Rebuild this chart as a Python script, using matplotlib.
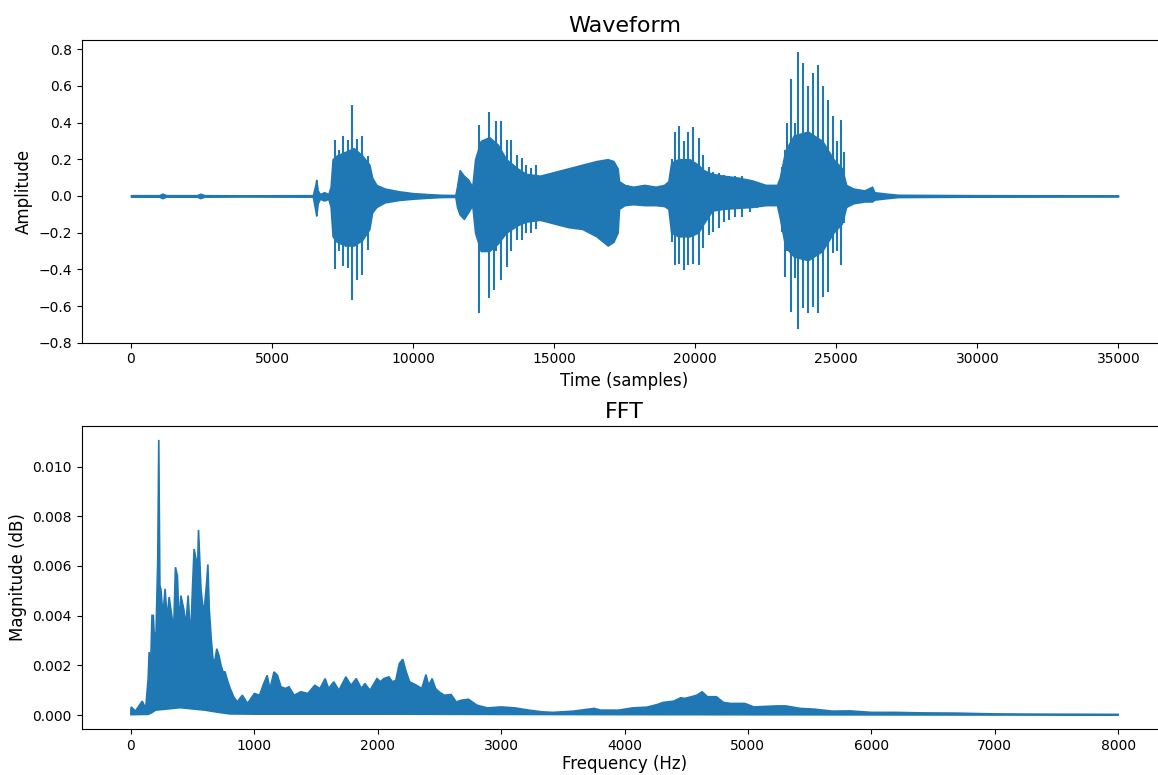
import numpy as np
import matplotlib
matplotlib.use("Agg")
import matplotlib.pyplot as plt

# Waveform envelope (sample index, upper / lower amplitude)
wave_x = [
    0, 1000, 1120, 1250, 2350, 2460, 2600, 4000, 6450, 6540,
    6570, 6620, 6700, 6850, 7000, 7080, 7150, 7300, 7600, 7900,
    8200, 8450, 8550, 8700, 9000, 9500, 10000, 10500, 11000, 11500,
    11560, 11650, 11800, 11950, 12100, 12200, 12400, 12700, 13000, 13300,
    13700, 14000, 14500, 15000, 15500, 16000, 16500, 16900, 17100, 17250,
    17300, 17500, 17800, 18200, 18600, 18900, 19050, 19150, 19400, 19800,
    20100, 20300, 20600, 21000, 21500, 22000, 22500, 22900, 23000, 23200,
    23500, 24000, 24500, 24900, 25200, 25350, 25600, 26000, 26270, 26350,
    26800, 27200, 30000, 34990,
]
wave_hi = [
    0.004, 0.004, 0.012, 0.004, 0.004, 0.012, 0.004, 0.003, 0.004, 0.06,
    0.087, 0.03, 0.01, 0.02, 0.01, 0.05, 0.2, 0.22, 0.24, 0.26,
    0.22, 0.17, 0.1, 0.06, 0.04, 0.025, 0.015, 0.01, 0.006, 0.005,
    0.05, 0.14, 0.11, 0.09, 0.05, 0.2, 0.3, 0.32, 0.28, 0.2,
    0.15, 0.12, 0.11, 0.13, 0.15, 0.17, 0.19, 0.2, 0.19, 0.15,
    0.08, 0.06, 0.05, 0.06, 0.05, 0.06, 0.08, 0.18, 0.2, 0.2,
    0.17, 0.14, 0.12, 0.11, 0.1, 0.085, 0.06, 0.06, 0.1, 0.25,
    0.33, 0.35, 0.3, 0.2, 0.15, 0.06, 0.04, 0.03, 0.05, 0.02,
    0.012, 0.006, 0.004, 0.003,
]
wave_lo = [
    -0.004, -0.004, -0.012, -0.004, -0.004, -0.012, -0.004, -0.003, -0.004, -0.08,
    -0.107, -0.04, -0.015, -0.025, -0.015, -0.06, -0.22, -0.25, -0.27, -0.27,
    -0.24, -0.18, -0.09, -0.06, -0.035, -0.022, -0.015, -0.01, -0.006, -0.005,
    -0.06, -0.1, -0.125, -0.09, -0.05, -0.2, -0.3, -0.3, -0.26, -0.2,
    -0.16, -0.14, -0.13, -0.15, -0.17, -0.18, -0.22, -0.27, -0.25, -0.2,
    -0.07, -0.05, -0.045, -0.05, -0.05, -0.055, -0.07, -0.2, -0.22, -0.22,
    -0.2, -0.15, -0.08, -0.07, -0.065, -0.06, -0.05, -0.05, -0.12, -0.28,
    -0.33, -0.35, -0.3, -0.2, -0.15, -0.06, -0.04, -0.03, -0.03, -0.02,
    -0.012, -0.006, -0.004, -0.003,
]

# Pitch pulses sticking out of the envelope
spike_x = [
    7241, 7380, 7521, 7680, 7850, 8021, 8204, 8399,
    12348, 12520, 12700, 12873, 12958, 13104, 13324, 13482, 13689, 13848, 14019, 14177, 14360,
    19194, 19282, 19433, 19610, 19761, 19912, 20126, 20290,
    20479, 20642, 20831, 21020, 21209, 21423, 21650, 21927, 22179,
    23085, 23186, 23262, 23413, 23520, 23627, 23816, 24005, 24169, 24345, 24534, 24710,
    24886, 25040, 25176, 25277,
]
spike_top = [
    0.306, 0.25, 0.324, 0.306, 0.497, 0.31, 0.324, 0.215,
    0.388, 0.3, 0.46, 0.3, 0.406, 0.406, 0.306, 0.306, 0.224, 0.206, 0.17, 0.15, 0.17,
    0.2, 0.35, 0.379, 0.3, 0.35, 0.375, 0.315, 0.224,
    0.16, 0.133, 0.124, 0.115, 0.106, 0.106, 0.106, 0.087, 0.078,
    0.16, 0.25, 0.397, 0.637, 0.4, 0.783, 0.724, 0.6, 0.67, 0.715, 0.597, 0.524,
    0.433, 0.3, 0.415, 0.242,
]
spike_bot = [
    -0.40, -0.3, -0.382, -0.395, -0.568, -0.459, -0.432, -0.295,
    -0.637, -0.3, -0.559, -0.513, -0.3, -0.459, -0.386, -0.3, -0.24, -0.24, -0.204, -0.204, -0.18,
    -0.25, -0.377, -0.37, -0.404, -0.377, -0.37, -0.377, -0.286,
    -0.213, -0.195, -0.177, -0.14, -0.131, -0.113, -0.113, -0.086, -0.067,
    -0.195, -0.44, -0.3, -0.632, -0.45, -0.728, -0.613, -0.64, -0.604, -0.64, -0.55, -0.522,
    -0.313, -0.3, -0.377, -0.15,
]

# FFT magnitude, upper edge (Hz, value)
fft_f = [
    0, 3, 36, 92, 120, 140, 148, 159, 171, 182,
    190, 204, 218, 226, 235, 243, 260, 277, 294, 310,
    333, 347, 361, 377, 391, 405, 428, 445, 464, 484,
    500, 512, 528, 540, 548, 559, 568, 582, 596, 612,
    624, 635, 651, 665, 679, 696, 713, 730, 747, 763,
    786, 805, 833, 861, 903, 945, 1001, 1043, 1071, 1104,
    1127, 1160, 1188, 1216, 1253, 1281, 1323, 1378, 1434, 1490,
    1532, 1574, 1602, 1644, 1686, 1742, 1784, 1826, 1868, 1896,
    1938, 1994, 2022, 2049, 2091, 2119, 2147, 2175, 2203, 2231,
    2259, 2287, 2315, 2357, 2391, 2413, 2441, 2469, 2497, 2539,
    2595, 2637, 2679, 2735, 2804, 2888, 3000, 3112, 3224, 3336,
    3420, 3587, 3755, 3807, 3951, 4066, 4182, 4268, 4312, 4398,
    4456, 4485, 4543, 4586, 4629, 4672, 4745, 4802, 4860, 4975,
    5048, 5235, 5307, 5423, 5538, 5683, 5827, 6000, 6202, 6404,
    6693, 6981, 7270, 8000,
]
fft_hi = [
    0.0002, 0.00033, 0.00016, 0.00056, 0.00027, 0.00147, 0.00254, 0.00174, 0.00401, 0.00401,
    0.00314, 0.00334, 0.00628, 0.01107, 0.00521, 0.00508, 0.00401, 0.00508, 0.00388, 0.00475,
    0.00394, 0.00348, 0.00595, 0.00561, 0.00361, 0.00481, 0.00428, 0.00361, 0.00481, 0.00307,
    0.00521, 0.00668, 0.00628, 0.00575, 0.00745, 0.00615, 0.00508, 0.00441, 0.00434, 0.00521,
    0.00606, 0.00428, 0.00307, 0.00227, 0.00214, 0.00267, 0.00241, 0.00201, 0.00174, 0.00174,
    0.00134, 0.00107, 0.00074, 0.00053, 0.0008, 0.00047, 0.00087, 0.0008, 0.0012, 0.0016,
    0.00107, 0.00174, 0.0016, 0.00114, 0.00107, 0.00114, 0.0008, 0.00094, 0.00087, 0.0012,
    0.00107, 0.00147, 0.00107, 0.00134, 0.001, 0.00154, 0.0012, 0.00147, 0.00107, 0.00127,
    0.001, 0.00147, 0.00134, 0.00147, 0.00154, 0.00134, 0.0014, 0.00207, 0.00225, 0.00174,
    0.00134, 0.00127, 0.0012, 0.00107, 0.00163, 0.0012, 0.00147, 0.00107, 0.00094, 0.0008,
    0.00083, 0.00053, 0.0006, 0.00064, 0.0004, 0.00029, 0.00033, 0.00029, 0.0002, 0.00013,
    0.00011, 0.00016, 0.00027, 0.0002, 0.0002, 0.00029, 0.00032, 0.00043, 0.00051, 0.00056,
    0.0007, 0.00067, 0.00074, 0.0008, 0.00094, 0.00074, 0.00074, 0.00051, 0.00047, 0.00047,
    0.00033, 0.00037, 0.00037, 0.00027, 0.00024, 0.00016, 0.00017, 0.00011, 0.00011, 0.00009,
    0.00008, 0.00005, 0.00004, 0.00003,
]
# FFT lower edge
fft_lo_f = [0, 140, 170, 200, 300, 400, 500, 600, 700, 800, 1000, 2000, 2800, 4000, 6000, 8000]
fft_lo = [0.00002, 0.00003, 0.0001, 0.0002, 0.00025, 0.0003, 0.00025, 0.0002, 0.00012,
          0.00005, 0.00004, 0.00004, 0.00003, 0.00002, 0.00001, 0.0]

BLUE = "#1f77b4"


def draw_waveform(ax):
    ax.fill_between(wave_x, wave_lo, wave_hi, color=BLUE, lw=1.2)
    ax.vlines(spike_x, spike_bot, spike_top, color=BLUE, lw=1.5)
    ax.set_ylim(-0.80, 0.85)
    ax.set_title("Waveform", fontsize=16)
    ax.set_xlabel("Time (samples)", fontsize=12)
    ax.set_ylabel("Amplitude", fontsize=12)


def draw_fft(ax):
    xs = np.concatenate([fft_f, fft_lo_f[::-1]])
    ys = np.concatenate([fft_hi, fft_lo[::-1]])
    ax.fill(xs, ys, color=BLUE, lw=1.2)
    ax.set_title("FFT", fontsize=16)
    ax.set_xlabel("Frequency (Hz)", fontsize=12, labelpad=2)
    ax.set_ylabel("Magnitude (dB)", fontsize=12)


def main() -> None:
    fig = plt.figure(figsize=(11.58, 7.75), dpi=100)
    ax1 = fig.add_axes([0.0704, 0.5578, 0.9378, 0.3906])
    ax2 = fig.add_axes([0.0704, 0.0595, 0.9378, 0.3906])
    draw_waveform(ax1)
    draw_fft(ax2)
    fig.savefig("out.png", dpi=100)


if __name__ == "__main__":
    main()
